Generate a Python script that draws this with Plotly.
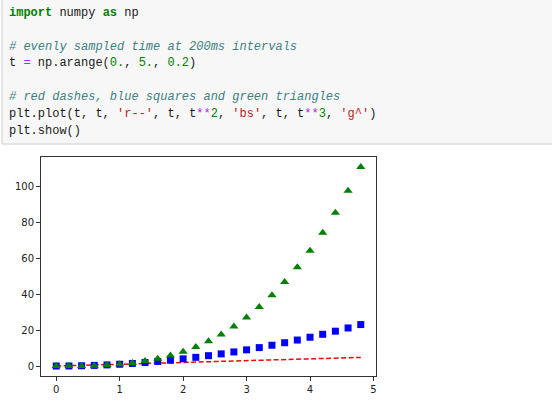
import plotly.graph_objects as go

# data (t sampled every 0.2 from 0 to 4.8)
t = [0.0, 0.2, 0.4, 0.6, 0.8, 1.0, 1.2, 1.4, 1.6, 1.8, 2.0, 2.2, 2.4, 2.6, 2.8,
     3.0, 3.2, 3.4, 3.6, 3.8, 4.0, 4.2, 4.4, 4.6, 4.8]
t_sq = [0.0, 0.04, 0.16, 0.36, 0.64, 1.0, 1.44, 1.96, 2.56, 3.24, 4.0, 4.84, 5.76,
        6.76, 7.84, 9.0, 10.24, 11.56, 12.96, 14.44, 16.0, 17.64, 19.36, 21.16, 23.04]
t_cu = [0.0, 0.008, 0.064, 0.216, 0.512, 1.0, 1.728, 2.744, 4.096, 5.832, 8.0,
        10.648, 13.824, 17.576, 21.952, 27.0, 32.768, 39.304, 46.656, 54.872,
        64.0, 74.088, 85.184, 97.336, 110.592]
x_ticks = [0, 1, 2, 3, 4, 5]
y_ticks = [0, 20, 40, 60, 80, 100]

W, H = 552, 417
L, R, T, B = 41, 176, 157, 41
PW, PH = W - L - R, H - T - B


def px(x):
    return (x - L) / PW


def py(y):
    return (H - B - y) / PH


fig = go.Figure()
fig.add_trace(go.Scatter(x=t, y=t, mode="lines",
                         line=dict(color="#ff0000", width=1.5, dash="5px,2.5px"),
                         hoverinfo="skip"))
fig.add_trace(go.Scatter(x=t, y=t_sq, mode="markers",
                         marker=dict(symbol="square", color="#0000ff", size=7,
                                     line=dict(width=0))))
fig.add_trace(go.Scatter(x=t, y=t_cu, mode="markers",
                         marker=dict(symbol="triangle-up", color="#008000", size=8,
                                     line=dict(width=0))))

# code cell background
fig.add_shape(type="rect", xref="paper", yref="paper",
              x0=px(2), x1=px(560), y0=py(144), y1=py(-5),
              fillcolor="#f7f7f7", line=dict(color="#cfcfcf", width=1), layer="below")

KW = "#008000"
NUM = "#008000"
OP = "#aa22ff"
CM = "#408080"
ST = "#ba2121"

lines = [
    (13, f"<b><span style='color:{KW}'>import</span></b> numpy <b><span style='color:{KW}'>as</span></b> np"),
    (46.6, f"<i><span style='color:{CM}'># evenly sampled time at 200ms intervals</span></i>"),
    (63.4, f"t <span style='color:{OP}'>=</span> np.arange(<span style='color:{NUM}'>0.</span>, "
           f"<span style='color:{NUM}'>5.</span>, <span style='color:{NUM}'>0.2</span>)"),
    (97, f"<i><span style='color:{CM}'># red dashes, blue squares and green triangles</span></i>"),
    (113.8, f"plt.plot(t, t, <span style='color:{ST}'>'r--'</span>, t, t<span style='color:{OP}'>**</span>"
            f"<span style='color:{NUM}'>2</span>, <span style='color:{ST}'>'bs'</span>, t, t"
            f"<span style='color:{OP}'>**</span><span style='color:{NUM}'>3</span>, "
            f"<span style='color:{ST}'>'g^'</span>)"),
    (130.6, "plt.show()"),
]
for yy, txt in lines:
    fig.add_annotation(xref="paper", yref="paper", x=px(7), y=py(yy),
                       xanchor="left", yanchor="middle", text=txt, showarrow=False,
                       font=dict(family="Liberation Mono", size=12, color="#1a1a1a"),
                       align="left")

axis_common = dict(showgrid=False, zeroline=False, showline=True, mirror=True,
                   linecolor="#333333", linewidth=1, ticks="outside", ticklen=4,
                   tickcolor="#333333", tickwidth=1,
                   tickfont=dict(family="DejaVu Sans", size=10, color="#222222"))
fig.update_xaxes(range=[-0.24, 5.04], tickvals=x_ticks, **axis_common)
fig.update_yaxes(range=[-5.53, 116.12], tickvals=y_ticks, **axis_common)

fig.update_layout(width=W, height=H, margin=dict(l=L, r=R, t=T, b=B),
                  paper_bgcolor="white", plot_bgcolor="white", showlegend=False)

fig.write_html("out.html", config={"displayModeBar": False},
               post_script="document.body.style.margin='0px';document.body.style.overflow='hidden';")
